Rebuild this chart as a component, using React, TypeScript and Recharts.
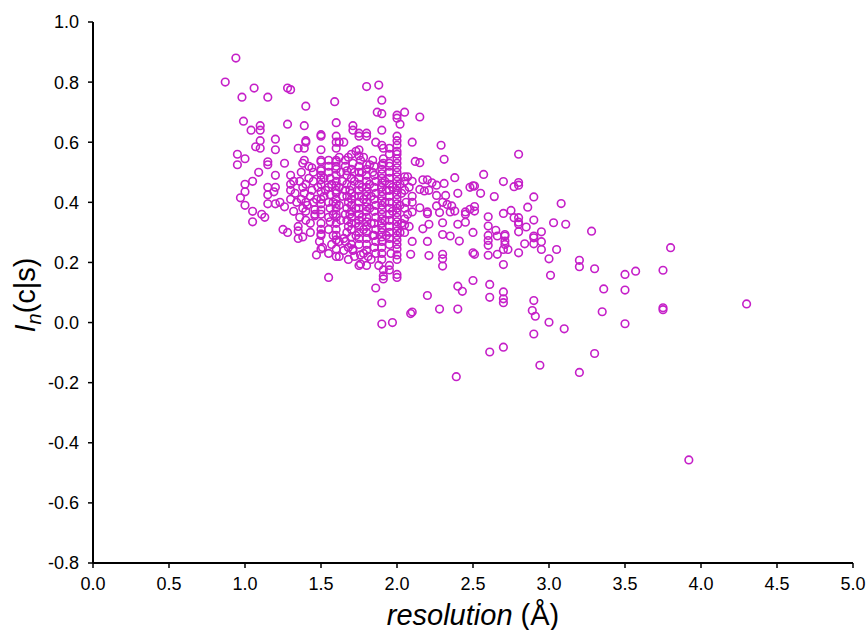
import { ScatterChart, Scatter, XAxis, YAxis } from "recharts";

// resolution (Å) vs I_n(c|s), grouped by resolution band
const SHORT_RES: [number, number][] = [
  [0.87, 0.8], [0.94, 0.88], [0.98, 0.75], [1.06, 0.78], [1.15, 0.75], [0.99, 0.67],
  [1.04, 0.64], [1.1, 0.655], [1.1, 0.64], [1.28, 0.66], [1.1, 0.605], [1.2, 0.61],
  [1.07, 0.585], [1.1, 0.58], [1.2, 0.575], [0.95, 0.56], [0.95, 0.525], [1.0, 0.545],
  [1.15, 0.535], [1.15, 0.525], [1.26, 0.53], [1.09, 0.5], [1.2, 0.49], [1.0, 0.46],
  [1.0, 0.435], [1.05, 0.47], [1.15, 0.45], [1.2, 0.45], [1.15, 0.425], [1.19, 0.435],
  [0.97, 0.415], [1.0, 0.39], [1.15, 0.395], [1.2, 0.395], [1.23, 0.4], [1.26, 0.385],
  [1.05, 0.37], [1.05, 0.335], [1.11, 0.36], [1.13, 0.35], [1.25, 0.31], [1.28, 0.3],
  [1.28, 0.78], [1.3, 0.775], [1.3, 0.49], [1.3, 0.46], [1.32, 0.47], [1.3, 0.41],
];

const BAND_15: [number, number][] = [
  [1.4, 0.72], [1.59, 0.735], [1.39, 0.655], [1.6, 0.665], [1.5, 0.625], [1.5, 0.62],
  [1.6, 0.62], [1.4, 0.605], [1.4, 0.6], [1.6, 0.6], [1.62, 0.6], [1.35, 0.58],
  [1.39, 0.58], [1.5, 0.575], [1.6, 0.58], [1.38, 0.53], [1.39, 0.54], [1.5, 0.54],
  [1.5, 0.535], [1.55, 0.54], [1.6, 0.54], [1.6, 0.535], [1.44, 0.515], [1.5, 0.51],
  [1.5, 0.505], [1.37, 0.5], [1.34, 0.4], [1.38, 0.38], [1.4, 0.4], [1.43, 0.33],
  [1.46, 0.355], [1.46, 0.375], [1.45, 0.4], [1.5, 0.295], [1.5, 0.29], [1.5, 0.245],
  [1.47, 0.225], [1.55, 0.23], [1.6, 0.245], [1.6, 0.22], [1.55, 0.15], [1.58, 0.29],
  [1.62, 0.27], [1.35, 0.32], [1.35, 0.305], [1.35, 0.28], [1.38, 0.285],
  [1.3, 0.44], [1.33, 0.43], [1.36, 0.47], [1.38, 0.45], [1.39, 0.43], [1.4, 0.46],
  [1.42, 0.48], [1.41, 0.39], [1.43, 0.42], [1.44, 0.44], [1.45, 0.47], [1.45, 0.5],
  [1.46, 0.36], [1.47, 0.41], [1.48, 0.45], [1.32, 0.37], [1.36, 0.35], [1.4, 0.34],
  [1.43, 0.3], [1.4, 0.37], [1.37, 0.41], [1.42, 0.52],
  [1.5, 0.49], [1.5, 0.475], [1.5, 0.46], [1.5, 0.435], [1.5, 0.41], [1.5, 0.395],
  [1.5, 0.375], [1.5, 0.36], [1.5, 0.33], [1.5, 0.31], [1.49, 0.27], [1.51, 0.25],
  [1.52, 0.42], [1.52, 0.48], [1.53, 0.44],
  [1.55, 0.52], [1.55, 0.5], [1.56, 0.48], [1.55, 0.45], [1.56, 0.425], [1.55, 0.4],
  [1.56, 0.38], [1.55, 0.35], [1.56, 0.335], [1.55, 0.31], [1.57, 0.26], [1.57, 0.46],
  [1.58, 0.4], [1.58, 0.36],
  [1.6, 0.52], [1.6, 0.51], [1.6, 0.49], [1.6, 0.47], [1.6, 0.455], [1.6, 0.44],
  [1.6, 0.43], [1.6, 0.41], [1.6, 0.395], [1.6, 0.38], [1.6, 0.36], [1.6, 0.35],
  [1.6, 0.33], [1.6, 0.31], [1.6, 0.29], [1.6, 0.275], [1.62, 0.45], [1.62, 0.39],
  [1.63, 0.5], [1.63, 0.34], [1.64, 0.42], [1.64, 0.47], [1.62, 0.55], [1.62, 0.22],
  [1.65, 0.24],
];

const BAND_17: [number, number][] = [
  [1.8, 0.785], [1.71, 0.655], [1.71, 0.64], [1.75, 0.63], [1.8, 0.63], [1.75, 0.62],
  [1.8, 0.62], [1.65, 0.6], [1.7, 0.56], [1.73, 0.57], [1.75, 0.575], [1.75, 0.555],
  [1.66, 0.54], [1.71, 0.53], [1.76, 0.54], [1.8, 0.525], [1.82, 0.525], [1.76, 0.195],
  [1.75, 0.19], [1.81, 0.22], [1.8, 0.19], [1.71, 0.245], [1.71, 0.24], [1.76, 0.225],
  [1.72, 0.5], [1.77, 0.5], [1.67, 0.505], [1.68, 0.55], [1.78, 0.55], [1.84, 0.54],
  [1.68, 0.21], [1.72, 0.22], [1.78, 0.23], [1.83, 0.21], [1.65, 0.28],
  [1.66, 0.52], [1.67, 0.49], [1.67, 0.46], [1.66, 0.44], [1.67, 0.42], [1.68, 0.4],
  [1.67, 0.38], [1.66, 0.36], [1.67, 0.34], [1.68, 0.32], [1.67, 0.3], [1.66, 0.27],
  [1.68, 0.25], [1.69, 0.44], [1.69, 0.36],
  [1.7, 0.51], [1.7, 0.48], [1.7, 0.455], [1.7, 0.43], [1.7, 0.41], [1.7, 0.39],
  [1.7, 0.37], [1.7, 0.35], [1.7, 0.33], [1.7, 0.31], [1.7, 0.285], [1.7, 0.26],
  [1.72, 0.47], [1.72, 0.42], [1.73, 0.38], [1.73, 0.33], [1.73, 0.29],
  [1.75, 0.52], [1.75, 0.5], [1.75, 0.48], [1.75, 0.46], [1.75, 0.44], [1.75, 0.42],
  [1.75, 0.4], [1.75, 0.38], [1.75, 0.36], [1.75, 0.34], [1.75, 0.32], [1.75, 0.3],
  [1.75, 0.28], [1.75, 0.26], [1.77, 0.45], [1.77, 0.35], [1.78, 0.41], [1.78, 0.31],
  [1.8, 0.51], [1.8, 0.49], [1.8, 0.47], [1.8, 0.45], [1.8, 0.435], [1.8, 0.42],
  [1.8, 0.4], [1.8, 0.385], [1.8, 0.37], [1.8, 0.35], [1.8, 0.335], [1.8, 0.32],
  [1.8, 0.3], [1.8, 0.28], [1.8, 0.26], [1.8, 0.24], [1.82, 0.46], [1.82, 0.38],
  [1.83, 0.42], [1.83, 0.33], [1.84, 0.5], [1.84, 0.29],
];

const BAND_19: [number, number][] = [
  [1.88, 0.79], [1.9, 0.74], [1.87, 0.7], [1.9, 0.695], [2.0, 0.69], [2.0, 0.68],
  [2.05, 0.7], [2.02, 0.66], [1.9, 0.64], [2.0, 0.62], [2.0, 0.605], [2.0, 0.59],
  [2.0, 0.57], [2.0, 0.56], [2.0, 0.545], [2.0, 0.53], [1.86, 0.6], [1.9, 0.59],
  [1.91, 0.58], [1.95, 0.58], [1.95, 0.56], [1.91, 0.545], [1.91, 0.53], [1.95, 0.53],
  [1.86, 0.23], [1.86, 0.115], [1.9, 0.065], [1.91, 0.175], [1.91, 0.155], [1.91, 0.145],
  [1.95, 0.19], [1.95, 0.175], [2.0, 0.245], [2.0, 0.225], [2.0, 0.21], [2.0, 0.16],
  [2.0, 0.15], [1.9, -0.005], [1.97, 0.0], [2.05, 0.485], [2.05, 0.345], [2.05, 0.325],
  [1.85, 0.52], [1.85, 0.49], [1.86, 0.47], [1.85, 0.45], [1.86, 0.43], [1.85, 0.41],
  [1.86, 0.39], [1.85, 0.37], [1.86, 0.35], [1.85, 0.33], [1.86, 0.31], [1.85, 0.29],
  [1.86, 0.27], [1.85, 0.25], [1.88, 0.19],
  [1.9, 0.525], [1.9, 0.51], [1.9, 0.495], [1.9, 0.48], [1.9, 0.465], [1.9, 0.45],
  [1.9, 0.435], [1.9, 0.42], [1.9, 0.405], [1.9, 0.39], [1.9, 0.375], [1.9, 0.36],
  [1.9, 0.345], [1.9, 0.33], [1.9, 0.315], [1.9, 0.3], [1.9, 0.285], [1.9, 0.27],
  [1.9, 0.25], [1.9, 0.23], [1.9, 0.21], [1.92, 0.47], [1.92, 0.4], [1.92, 0.34],
  [1.93, 0.44], [1.93, 0.29],
  [1.95, 0.52], [1.95, 0.5], [1.95, 0.48], [1.95, 0.46], [1.95, 0.44], [1.95, 0.42],
  [1.95, 0.4], [1.95, 0.38], [1.95, 0.36], [1.95, 0.34], [1.95, 0.32], [1.95, 0.3],
  [1.95, 0.28], [1.95, 0.26], [1.96, 0.23], [1.97, 0.45], [1.97, 0.37],
  [2.0, 0.515], [2.0, 0.5], [2.0, 0.485], [2.0, 0.47], [2.0, 0.455], [2.0, 0.44],
  [2.0, 0.425], [2.0, 0.41], [2.0, 0.395], [2.0, 0.38], [2.0, 0.365], [2.0, 0.35],
  [2.0, 0.335], [2.0, 0.32], [2.0, 0.305], [2.0, 0.29], [2.0, 0.275], [2.0, 0.26],
  [2.02, 0.46], [2.02, 0.39], [2.03, 0.43], [2.03, 0.33], [2.02, 0.3],
];

const BAND_23: [number, number][] = [
  [2.05, 0.47], [2.05, 0.44], [2.06, 0.4], [2.05, 0.38], [2.07, 0.36], [2.05, 0.3],
  [2.08, 0.45], [2.08, 0.32],
  [2.07, 0.485], [2.1, 0.47], [2.17, 0.475], [2.2, 0.475], [2.23, 0.465], [2.26, 0.457],
  [2.31, 0.463], [2.38, 0.482], [2.48, 0.45], [2.5, 0.455], [2.15, 0.443], [2.18, 0.438],
  [2.21, 0.44], [2.1, 0.42], [2.1, 0.4], [2.1, 0.368], [2.26, 0.423], [2.32, 0.423],
  [2.4, 0.43], [2.15, 0.382], [2.2, 0.368], [2.2, 0.362], [2.26, 0.388], [2.3, 0.4],
  [2.33, 0.393], [2.36, 0.388], [2.38, 0.371], [2.35, 0.368], [2.28, 0.366], [2.45, 0.368],
  [2.48, 0.377], [2.45, 0.36], [2.21, 0.327], [2.17, 0.312], [2.3, 0.332], [2.4, 0.327],
  [2.45, 0.334], [2.3, 0.293], [2.35, 0.288], [2.41, 0.271], [2.5, 0.3], [2.1, 0.27],
  [2.2, 0.27], [2.09, 0.227], [2.21, 0.223], [2.3, 0.227], [2.3, 0.212], [2.3, 0.188],
  [2.5, 0.232], [2.5, 0.14], [2.4, 0.121], [2.43, 0.104], [2.2, 0.09], [2.28, 0.045],
  [2.4, 0.045], [2.1, 0.035], [2.09, 0.03], [2.39, -0.18], [2.15, 0.684], [2.1, 0.6],
  [2.29, 0.59], [2.31, 0.543], [2.12, 0.536], [2.15, 0.532],
];

const LONG_RES: [number, number][] = [
  [2.8, 0.56], [2.57, 0.493], [2.7, 0.469], [2.8, 0.466], [2.8, 0.457], [2.77, 0.452],
  [2.51, 0.454], [2.55, 0.43], [2.64, 0.419], [2.9, 0.418], [3.08, 0.396], [2.86, 0.384],
  [2.75, 0.373], [2.7, 0.363], [2.51, 0.386], [2.51, 0.371], [2.6, 0.352], [2.77, 0.349],
  [2.8, 0.349], [2.8, 0.334], [2.8, 0.327], [2.9, 0.341], [3.03, 0.332], [3.11, 0.327],
  [2.6, 0.321], [2.85, 0.318], [3.28, 0.304], [2.65, 0.307], [2.71, 0.293], [2.8, 0.302],
  [2.9, 0.288], [2.95, 0.302], [2.6, 0.29], [2.6, 0.273], [2.6, 0.257], [2.66, 0.288],
  [2.71, 0.288], [2.71, 0.271], [2.71, 0.26], [2.84, 0.262], [2.9, 0.282], [2.9, 0.262],
  [2.95, 0.269], [2.95, 0.243], [3.05, 0.243], [2.6, 0.224], [2.66, 0.227], [2.7, 0.243],
  [2.73, 0.243], [2.8, 0.232], [2.51, 0.227], [2.7, 0.193], [3.0, 0.212], [3.2, 0.207],
  [3.2, 0.186], [3.3, 0.179], [3.01, 0.157], [3.36, 0.112], [2.61, 0.127], [2.61, 0.084],
  [2.7, 0.102], [2.7, 0.079], [2.7, 0.066], [2.9, 0.073], [2.89, 0.04], [2.91, 0.021],
  [3.0, 0.001], [3.1, -0.021], [3.35, 0.036], [2.9, -0.038], [2.61, -0.098], [2.7, -0.082],
  [3.3, -0.103], [2.94, -0.142], [3.2, -0.166], [3.8, 0.249], [3.5, 0.16], [3.57, 0.171],
  [3.75, 0.174], [3.5, 0.108], [3.75, 0.049], [3.75, 0.043], [4.3, 0.062], [3.5, -0.004],
  [3.92, -0.457],
];

const X_TICKS = [0, 0.5, 1, 1.5, 2, 2.5, 3, 3.5, 4, 4.5, 5];
const Y_TICKS = [-0.8, -0.6, -0.4, -0.2, 0, 0.2, 0.4, 0.6, 0.8, 1.0];

const MAGENTA = "#c51fc8";
const FONT = "'Liberation Sans', Arial, sans-serif";

const points = [...SHORT_RES, ...BAND_15, ...BAND_17, ...BAND_19, ...BAND_23, ...LONG_RES].map(
  ([x, y]) => ({ x, y })
);

const Ring = (props: any) => (
  <circle cx={props.cx} cy={props.cy} r={3.8} fill="none" stroke={MAGENTA} strokeWidth={1.6} />
);

const yLabel = () => (
  <text
    x={0}
    y={0}
    transform="translate(35, 295) rotate(-90)"
    textAnchor="middle"
    fontFamily={FONT}
    fontSize={29}
    fill="#000"
  >
    <tspan fontStyle="italic">I</tspan>
    <tspan fontSize={20} fontStyle="italic" dy={6}>n</tspan>
    <tspan dy={-6}>(c|s)</tspan>
  </text>
);

const xLabel = () => (
  <text x={473} y={625} textAnchor="middle" fontFamily={FONT} fontSize={29} fill="#000">
    <tspan fontStyle="italic">resolution</tspan> (Å)
  </text>
);

export default function App() {
  return (
    <div style={{ position: "absolute", left: 0, top: 0, width: 866, height: 630, background: "#fff" }}>
      <ScatterChart width={866} height={630} margin={{ top: 22, right: 13, bottom: 0, left: 33 }}>
        <XAxis
          type="number"
          dataKey="x"
          domain={[0, 5]}
          ticks={X_TICKS}
          tickFormatter={(v: number) => v.toFixed(1)}
          axisLine={{ stroke: "#000", strokeWidth: 2 }}
          tickLine={{ stroke: "#000", strokeWidth: 1.5 }}
          tickSize={5}
          tickMargin={9}
          tick={{ fill: "#000", fontSize: 18, fontFamily: FONT }}
          height={67}
          label={xLabel}
        />
        <YAxis
          type="number"
          dataKey="y"
          domain={[-0.8, 1.0]}
          ticks={Y_TICKS}
          tickFormatter={(v: number) => v.toFixed(1)}
          axisLine={{ stroke: "#000", strokeWidth: 2 }}
          tickLine={{ stroke: "#000", strokeWidth: 1.5 }}
          tickSize={5}
          tickMargin={9}
          tick={{ fill: "#000", fontSize: 18, fontFamily: FONT }}
          width={60}
          label={yLabel}
        />
        <Scatter data={points} shape={Ring} isAnimationActive={false} />
      </ScatterChart>
    </div>
  );
}
